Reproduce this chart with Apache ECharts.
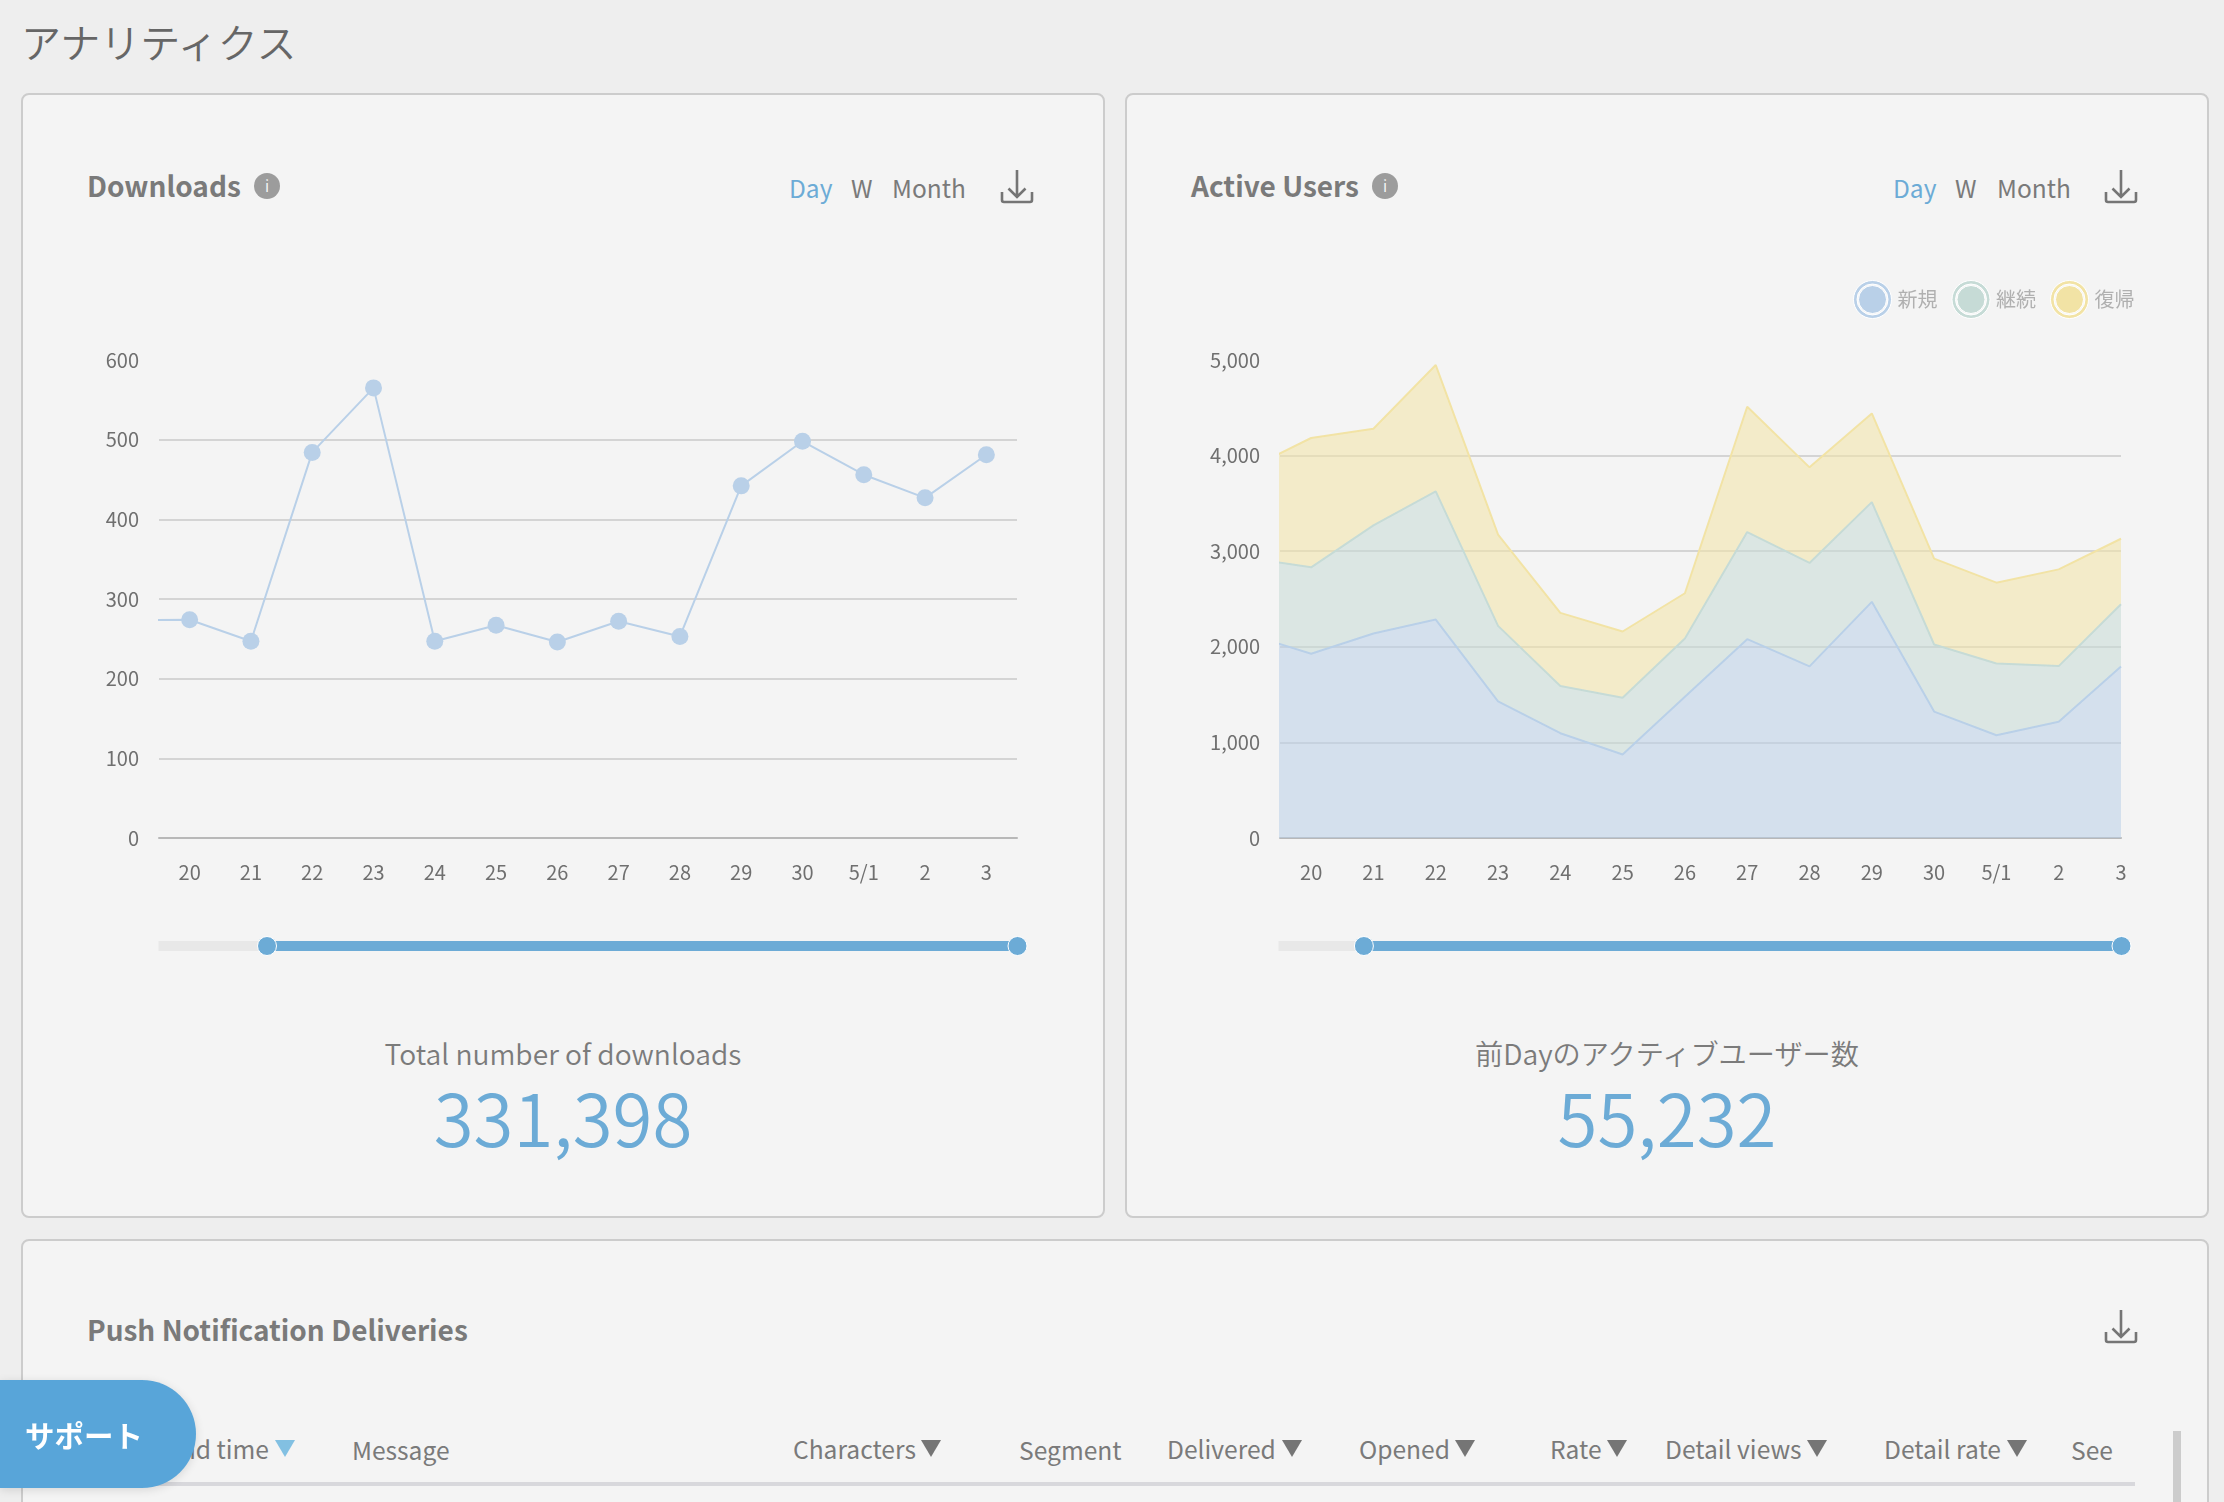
<!DOCTYPE html>
<html lang="ja">
<head>
<meta charset="utf-8">
<title>アナリティクス</title>
<script src="https://cdn.jsdelivr.net/npm/echarts@6/dist/echarts.min.js"></script>
<style>
html, body { margin: 0; padding: 0; background: #eeeeee; }
body { width: 2224px; height: 1502px; position: relative; overflow: hidden; font-family: "Noto Sans CJK JP", "Noto Sans", sans-serif; color: #7a7a7a; }
.card { position: absolute; box-sizing: border-box; background: #f4f4f4; border: 2px solid #cccccc; border-radius: 8px; }
.t { position: absolute; transform: translateY(-50%); white-space: nowrap; }
.c { transform: translate(-50%, -50%); }
.head { font-size: 28px; font-weight: 700; }
.tab { font-size: 24.5px; }
.tab.on { color: #6cabd6; }
.info { position: absolute; width: 26px; height: 26px; border-radius: 50%; background: #9c9c9c; color: #f4f4f4; font-size: 15px; line-height: 26px; text-align: center; }
.sub { font-size: 28.2px; font-weight: 350; color: #7b7b7b; line-height: 40px; }
.big { font-size: 72.6px; font-weight: 350; color: #6cabd6; line-height: 84px; }
.th { font-size: 24.6px; }
.tri { position: absolute; top: 1440px; width: 0; height: 0; border-left: 10px solid transparent; border-right: 10px solid transparent; border-top: 17px solid #757575; }
.dl { position: absolute; width: 34px; height: 34px; }
#chart { position: absolute; left: 0; top: 0; width: 2224px; height: 1502px; }
#support { position: absolute; left: 0; top: 1380px; width: 196px; height: 108px; background: #58a5d9; border-radius: 0 54px 54px 0; box-shadow: 0 2px 10px rgba(0,0,0,0.12); color: #fff; font-size: 29.5px; font-weight: 700; line-height: 108px; text-indent: 25px; }
#rule { position: absolute; left: 88px; top: 1482px; width: 2047px; height: 4px; background: #d8d8dc; }
#scroll { position: absolute; left: 2173px; top: 1431px; width: 8px; height: 71px; background: #cccccc; }
</style>
</head>
<body>
<div class="t" style="left:21px;top:41px;font-size:40px;font-weight:350;color:#666">アナリティクス</div>

<div class="card" style="left:21px;top:93px;width:1084px;height:1125px"></div>
<div class="card" style="left:1125px;top:93px;width:1084px;height:1125px"></div>
<div class="card" style="left:21px;top:1239px;width:2188px;height:400px"></div>

<div class="t head" style="left:87px;top:185px">Downloads</div>
<div class="info" style="left:254px;top:173px">i</div>
<div class="t tab on" style="left:789px;top:187px">Day</div>
<div class="t tab" style="left:851px;top:187px">W</div>
<div class="t tab" style="left:892px;top:187px">Month</div>
<svg class="dl" style="left:1000px;top:170px" viewBox="0 0 34 34"><path d="M17 0V27M8.5 18.5L17 27L25.5 18.5M2 22V30Q2 32 4 32H30Q32 32 32 30V22" fill="none" stroke="#757575" stroke-width="2.6"/></svg>

<div class="t head" style="left:1191px;top:185px">Active Users</div>
<div class="info" style="left:1372px;top:173px">i</div>
<div class="t tab on" style="left:1893px;top:187px">Day</div>
<div class="t tab" style="left:1955px;top:187px">W</div>
<div class="t tab" style="left:1997px;top:187px">Month</div>
<svg class="dl" style="left:2104px;top:170px" viewBox="0 0 34 34"><path d="M17 0V27M8.5 18.5L17 27L25.5 18.5M2 22V30Q2 32 4 32H30Q32 32 32 30V22" fill="none" stroke="#757575" stroke-width="2.6"/></svg>

<div class="t c sub" style="left:563px;top:1053px">Total number of downloads</div>
<div class="t c big" style="left:563px;top:1116px">331,398</div>
<div class="t c sub" style="left:1667px;top:1053px">前Dayのアクティブユーザー数</div>
<div class="t c big" style="left:1667px;top:1116px">55,232</div>

<div class="t head" style="left:87px;top:1329px">Push Notification Deliveries</div>
<svg class="dl" style="left:2104px;top:1310px" viewBox="0 0 34 34"><path d="M17 0V27M8.5 18.5L17 27L25.5 18.5M2 22V30Q2 32 4 32H30Q32 32 32 30V22" fill="none" stroke="#757575" stroke-width="2.6"/></svg>

<div class="t th" style="left:186px;top:1448px;width:83px;text-align:right;direction:rtl">Send time</div>
<div class="tri" style="left:275px;border-top-color:#82c0e2"></div>
<div class="t th" style="left:352px;top:1449px">Message</div>
<div class="t th" style="left:793px;top:1448px">Characters</div><div class="tri" style="left:921px"></div>
<div class="t th" style="left:1019px;top:1449px">Segment</div>
<div class="t th" style="left:1167px;top:1448px">Delivered</div><div class="tri" style="left:1282px"></div>
<div class="t th" style="left:1359px;top:1448px">Opened</div><div class="tri" style="left:1455px"></div>
<div class="t th" style="left:1550px;top:1448px">Rate</div><div class="tri" style="left:1607px"></div>
<div class="t th" style="left:1665px;top:1448px">Detail views</div><div class="tri" style="left:1807px"></div>
<div class="t th" style="left:1884px;top:1448px">Detail rate</div><div class="tri" style="left:2007px"></div>
<div class="t th" style="left:2071px;top:1449px">See</div>
<div id="rule"></div>
<div id="scroll"></div>

<div id="chart"></div>
<div id="support">サポート</div>

<script>
var days = ['18', '19', '20', '21', '22', '23', '24', '25', '26', '27', '28', '29', '30', '5/1', '2', '3'];
var downloads = [270, 273, 274, 247, 484, 565, 247, 267, 246, 272, 253, 442, 498, 456, 427, 481];
var newUsers = [2100, 2129, 1927, 2139, 2285, 1430, 1096, 873, 1478, 2080, 1795, 2470, 1322, 1075, 1217, 1795];
var keptUsers = [820, 800, 904, 1131, 1341, 789, 494, 595, 609, 1120, 1082, 1043, 702, 751, 581, 650];
var backUsers = [950, 933, 1353, 1011, 1321, 954, 765, 692, 473, 1311, 1000, 928, 898, 845, 1012, 685];

var BLUE = '#b9d0e8', GREEN = '#c6dbd6', YELLOW = '#f2e3a5', ACCENT = '#6cabd6';
var FONT = '"Noto Sans CJK JP", "Noto Sans", sans-serif';
var DAY_MS = 86400000;
// time axis for the stacked chart: its zoom window starts half a day before "20"
var firstDay = Date.UTC(2019, 3, 18);
var dayStamps = days.map(function (d, i) { return firstDay + i * DAY_MS; });

// ring + inner disc legend marker
var ringIcon = 'path://M19 0A19 19 0 1 1 19 38A19 19 0 1 1 19 0Z' +
    'M19 3.5A15.5 15.5 0 1 0 19 34.5A15.5 15.5 0 1 0 19 3.5Z' +
    'M19 5A14 14 0 1 1 19 33A14 14 0 1 1 19 5Z';

var axisFont = { color: '#6f6f6f', fontSize: 20, fontFamily: FONT };

function yAxis(idx, max, step) {
    return {
        type: 'value', gridIndex: idx, min: 0, max: max, interval: step,
        axisLine: { show: false }, axisTick: { show: false },
        axisLabel: Object.assign({ margin: 20, formatter: function (v) { return v.toLocaleString('en-US'); } }, axisFont),
        splitLine: { showMaxLine: false, lineStyle: { color: '#d4d4d4', width: 2 } }
    };
}
function slider(idx, left, width, start) {
    return {
        type: 'slider', xAxisIndex: idx, filterMode: 'none', start: start, end: 100,
        left: left, width: width, top: 941, height: 10,
        showDetail: false, showDataShadow: false, brushSelect: false,
        backgroundColor: '#e8e8e8', borderColor: 'transparent', fillerColor: ACCENT,
        handleIcon: 'circle', handleSize: 19,
        handleStyle: { color: ACCENT, borderColor: '#fff', borderWidth: 1 },
        moveHandleSize: 0
    };
}
function area(name, values, color) {
    return {
        name: name, type: 'line', xAxisIndex: 1, yAxisIndex: 1, stack: 'users',
        data: values.map(function (v, i) { return [dayStamps[i], v]; }),
        showSymbol: false, symbol: 'none',
        lineStyle: { color: color, width: 2 },
        itemStyle: { color: color },
        areaStyle: { color: color, opacity: 0.55 }
    };
}

var myChart = echarts.init(document.getElementById('chart'));
myChart.setOption({
    animation: false,
    useUTC: true,
    backgroundColor: 'transparent',
    tooltip: { show: false },
    grid: [
        { left: 159, top: 360, width: 858, height: 478 },
        { left: 1280, top: 360, width: 841, height: 478 }
    ],
    legend: {
        data: [
            { name: '新規', icon: ringIcon },
            { name: '継続', icon: ringIcon },
            { name: '復帰', icon: ringIcon }
        ],
        left: 1848, top: 275, itemWidth: 38, itemHeight: 38, itemGap: 14,
        selectedMode: false,
        itemStyle: { borderColor: '#ffffff', borderWidth: 1 },
        textStyle: { color: '#b0b0b0', fontSize: 20, fontFamily: FONT, padding: [0, 0, 0, 1] }
    },
    xAxis: [
        {
            type: 'category', gridIndex: 0, data: days, boundaryGap: true,
            axisTick: { show: false },
            axisLine: { lineStyle: { color: '#b8b8b8', width: 2 } },
            axisLabel: Object.assign({ interval: 0, margin: 24 }, axisFont)
        },
        {
            type: 'time', gridIndex: 1, min: dayStamps[0], max: dayStamps[dayStamps.length - 1],
            minInterval: DAY_MS, maxInterval: DAY_MS,
            axisTick: { show: false }, splitLine: { show: false },
            axisLine: { lineStyle: { color: '#b8b8b8', width: 2 } },
            axisLabel: Object.assign({
                margin: 24, showMinLabel: true, showMaxLabel: true, hideOverlap: false,
                formatter: function (v) {
                    var i = (v - firstDay) / DAY_MS;
                    return i % 1 === 0 ? days[i] : '';
                }
            }, axisFont)
        }
    ],
    yAxis: [yAxis(0, 600, 100), yAxis(1, 5000, 1000)],
    dataZoom: [slider(0, 157, 860, 12.5), slider(1, 1277, 844, 10)],
    series: [
        {
            name: 'Downloads', type: 'line', xAxisIndex: 0, yAxisIndex: 0, data: downloads,
            symbol: 'circle', symbolSize: 17, showAllSymbol: true,
            lineStyle: { color: BLUE, width: 2 }, itemStyle: { color: BLUE }
        },
        area('新規', newUsers, BLUE),
        area('継続', keptUsers, GREEN),
        area('復帰', backUsers, YELLOW)
    ]
});
</script>
</body>
</html>
